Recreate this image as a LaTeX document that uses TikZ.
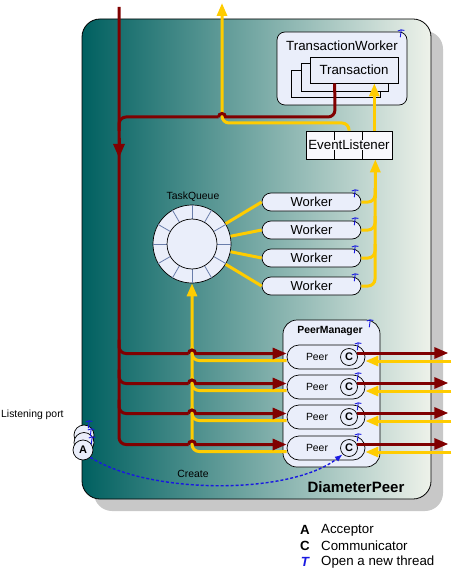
\documentclass[tikz,border=0pt]{standalone}
\usepackage{fontspec}
\setmainfont{Liberation Sans}
\usetikzlibrary{arrows.meta,calc}
\definecolor{dteal}{RGB}{0,96,96}
\definecolor{mteal}{RGB}{95,155,150}
\definecolor{lteal}{RGB}{238,242,234}
\definecolor{lav}{RGB}{234,238,250}
\definecolor{dred}{RGB}{128,0,0}
\definecolor{gold}{RGB}{255,204,0}
\definecolor{shad}{RGB}{200,200,200}
\definecolor{slate}{RGB}{105,125,170}
\definecolor{tblue}{RGB}{25,25,225}
\begin{document}
\begin{tikzpicture}[x=1pt,y=-1pt,
  redl/.style={draw=dred, line width=3pt, rounded corners=7},
  yell/.style={draw=gold, line width=3pt, rounded corners=7},
  rtip/.style={-{Triangle[length=14pt,width=11pt]}},
  ytip/.style={-{Triangle[length=13pt,width=10pt]}},
  box/.style={draw, fill=lav, line width=0.7pt, inner sep=0pt},
  pill/.style={box, rounded corners=9, minimum width=99pt, minimum height=18pt, font=\fontsize{13}{15}\selectfont},
  peerbox/.style={box, rounded corners=12, minimum width=78pt, minimum height=24pt},
  cnode/.style={box, circle, minimum size=17pt, font=\bfseries\fontsize{11}{12}\selectfont},
  acirc/.style={box, circle, minimum size=20pt, font=\bfseries\fontsize{11}{12}\selectfont},
  bigtxt/.style={font=\fontsize{13.3}{15}\selectfont, inner sep=0pt},
  smalltxt/.style={font=\fontsize{10.4}{12}\selectfont, inner sep=0pt},
  thr/.pic={\draw[tblue,line width=0.9pt] (-3.2,-3) .. controls (-1,-4.4) and (1,-4.4) .. (3.4,-3.6);
            \draw[tblue,line width=0.9pt] (0.2,-4) -- (-0.7,3.2);}
]
\useasboundingbox (0,0) rectangle (451,572);

% shadow and main box
\fill[shad, rounded corners=18] (94,31) rectangle (443,511);
\path[draw, line width=0.8pt, rounded corners=18, left color=dteal, middle color=mteal, right color=lteal] (82,19) rectangle (431,499);

% TransactionWorker
\node[box, rounded corners=8, minimum width=130pt, minimum height=73pt] (tw) at (342,68.5) {};
\node[bigtxt] (twl) at (342,46) {TransactionWorker};
\node[box, minimum width=89pt, minimum height=27pt] (tr3) at (335.5,83.5) {};
\node[box, minimum width=87pt, minimum height=28pt] (tr2) at (344.5,77) {};
\node[box, minimum width=88pt, minimum height=26pt, font=\fontsize{13.3}{15}\selectfont] (tr) at (354,70) {Transaction};

% EventListener
\node[draw, fill={rgb,255:red,248;green,248;blue,252}, line width=0.7pt, minimum width=86pt, minimum height=28pt] (el) at (349,145) {};
\draw[line width=0.7pt] ($(el.north west)+(29,0)$) -- ($(el.south west)+(29,0)$);
\draw[line width=0.7pt] ($(el.north west)+(57,0)$) -- ($(el.south west)+(57,0)$);
\node[bigtxt, fill={rgb,255:red,248;green,248;blue,252}] (ell) at (349,145) {EventListener};

% TaskQueue
\node[box, circle, minimum size=78pt] (tq) at (192,244) {};
\foreach \a in {0,30,...,330} \draw[slate, line width=0.8pt] ($(tq.center)+(\a:25)$) -- ($(tq.center)+(\a:39)$);
\node[box, circle, minimum size=50pt] (tqi) at (192,244) {};
\node[smalltxt] (tql) at (193,197) {TaskQueue};

% Workers
\foreach \i/\y in {1/202,2/230,3/258,4/286} {
  \node[pill] (w\i) at (311.5,\y) {Worker};
}

% PeerManager
\node[box, rounded corners=14, minimum width=97pt, minimum height=147pt] (pm) at (331.5,393.5) {};
\node[font=\bfseries\fontsize{10.4}{12}\selectfont, inner sep=0pt] (pml) at (330,331) {PeerManager};
\foreach \i/\y in {1/357,2/387,3/417,4/448} {
  \node[peerbox] (p\i) at (326,\y) {};
  \node[smalltxt] (pt\i) at (317,\y) {Peer};
  \node[cnode] (c\i) at (349,\y) {C};
}

% Acceptors
\node[acirc] (a3) at (84,435) {};
\node[acirc] (a2) at (84,442.5) {};
\node[acirc] (a1) at (83,450) {A};
\node[smalltxt, anchor=west] (lp) at (1,415) {Listening port};

% coordinates
\coordinate (redin) at (119,7);
\coordinate (yout) at (222,3);
\coordinate (elb) at ($(el.south east)+(-17,0)$);
\coordinate (elt) at ($(el.north east)+(-18,0)$);
\coordinate (trb) at ($(tr.south west)+(25,0)$);

% yellow: TaskQueue to workers
\foreach \i in {1,2,3,4} \draw[yell] (tq) -- (w\i.west);
% yellow: workers to EventListener
\foreach \i/\y in {1/202,2/230,3/258} \draw[yell] (w\i.east) -- (375,\y) -- (375,\y-14);
\draw[yell,ytip] (w4.east) -- (375,286) -- (elb);
% yellow: EventListener to Transaction and out
\draw[yell,ytip] (elt) -- (elt |- tr.south);
\draw[yell,ytip] (el.north) -- (349,123) -- (222,123) -- (yout);
% yellow: peers to TaskQueue
\foreach \i/\y in {1/360.5,2/390.5,3/420.5} \draw[yell] ($(p\i.west)+(0,3.5)$) -- (192,\y) -- (192,\y-14);
\draw[yell,ytip] ($(p4.west)+(0,3.5)$) -- (192,451.5) -- (tq.south);

% red: main vertical and branches
\draw[redl] (redin) -- (119,444.5) -- (188.5,444.5);
\draw[draw=dred, line width=3pt, rtip] (188.5,444.5) arc[start angle=180,end angle=360,radius=3.5] -- ($(p4.west)+(0,-3.5)$);
\foreach \i/\y in {1/353.5,2/383.5,3/413.5} {
  \draw[redl] (119,\y-14) -- (119,\y) -- (188.5,\y);
  \draw[draw=dred, line width=3pt, rtip] (188.5,\y) arc[start angle=180,end angle=360,radius=3.5] -- ($(p\i.west)+(0,-3.5)$);
}
\draw[draw=dred, line width=3pt, rtip] (119,138) -- (119,158);
\draw[redl] (119,131) -- (119,117) -- (218.5,117);
\draw[draw=dred, line width=3pt] (218.5,117) arc[start angle=180,end angle=360,radius=3.5] -- (228,117);
\draw[redl] (228,117) -- (335,117) -- (trb);

% right side arrows
\foreach \i in {1,2,3,4} {
  \draw[draw=dred, line width=3pt, rtip] ($(c\i.center)+(7.5,-4)$) -- ($(p\i.east)+(83,-4)$);
  \draw[draw=gold, line width=3pt, ytip] ($(p\i.east)+(86,4)$) -- ($(p\i.east)+(0,4)$);
}

% Create
\draw[tblue, line width=1.4pt, dash pattern=on 3pt off 2pt, -{Latex[length=8pt,width=6pt]}] (a1.south east) .. controls (150,495) and (290,495) .. (c4.south west);
\node[smalltxt] (cr) at (193,474) {Create};

% thread icons
\pic at (401,34) {thr};
\foreach \y in {194,222,250,278} \pic at (355,\y) {thr};
\pic at (370,324) {thr};
\foreach \y in {347,377,407,438} \pic at (358,\y) {thr};
\pic at (89,425) {thr};
\pic at (91,433) {thr};
\pic at (92,441) {thr};

% title
\node[font=\bfseries\fontsize{15}{17}\selectfont, inner sep=0pt] (dp) at (356,487) {DiameterPeer};

% legend
\node[bigtxt, font=\bfseries\fontsize{13.3}{15}\selectfont] (lA) at (305,530) {A};
\node[bigtxt, anchor=west] (lAt) at (321,530) {Acceptor};
\node[bigtxt, font=\bfseries\fontsize{13.3}{15}\selectfont] (lC) at (305,546) {C};
\node[bigtxt, anchor=west] (lCt) at (321,546) {Communicator};
\node[bigtxt, font=\bfseries\itshape\fontsize{13.3}{15}\selectfont, text=tblue] (lT) at (305,562) {T};
\node[bigtxt, anchor=west] (lTt) at (321,562) {Open a new thread};
\end{tikzpicture}
\end{document}
